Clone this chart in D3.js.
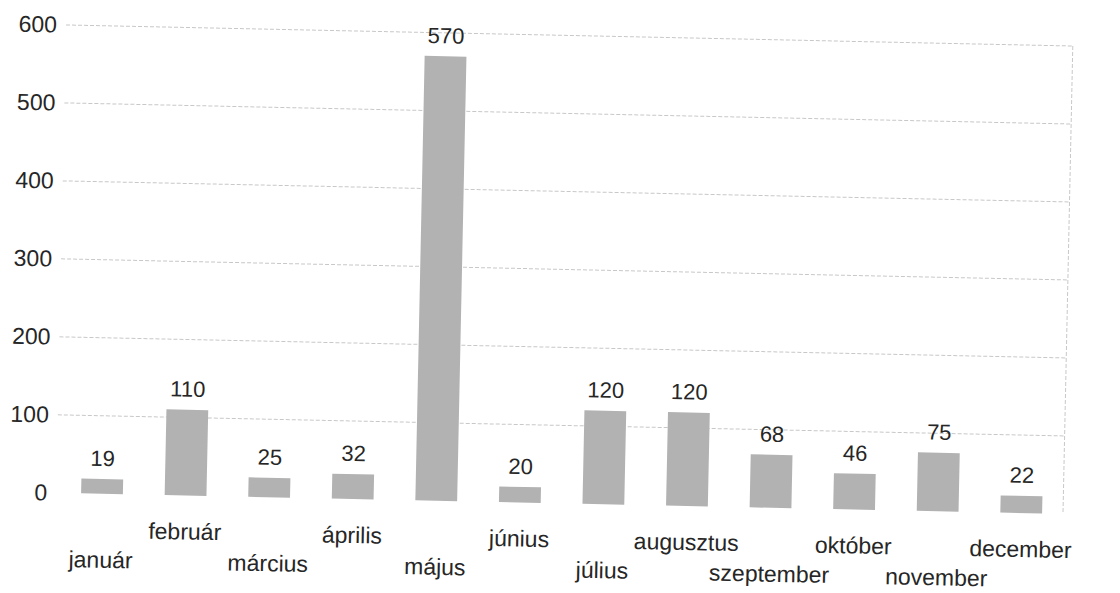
<!DOCTYPE html>
<html>
<head>
<meta charset="utf-8">
<script src="https://cdn.jsdelivr.net/npm/d3@7"></script>
<style>
  body { margin: 0; background: #fff; }
  text { font-family: "Liberation Sans", Arial, sans-serif; fill: #262626; }
</style>
</head>
<body>
<div id="chart"></div>
<script>
var months = ["január", "február", "március", "április", "május", "június",
  "július", "augusztus", "szeptember", "október", "november", "december"];
var values = [19, 110, 25, 32, 570, 20, 120, 120, 68, 46, 75, 22];
var yTicks = [0, 100, 200, 300, 400, 500, 600];

var width = 1120;
var height = 593;
// plot box (before the tilt)
var plotLeft = 70, plotRight = 1073, plotTop = 25, plotBottom = 493;

var svg = d3.select("#chart")
  .append("svg")
  .attr("width", width)
  .attr("height", height);

// the scanned page sits a little crooked, so tilt the whole chart
var chart = svg.append("g")
  .attr("transform", "rotate(1.2," + plotLeft + "," + plotTop + ")");

var x = d3.scaleBand()
  .domain(months)
  .range([plotLeft, plotRight])
  .paddingInner(0.5)
  .paddingOuter(0.25);

var y = d3.scaleLinear()
  .domain([0, 600])
  .range([plotBottom, plotTop]);

// gridlines (no line on 0)
chart.selectAll(".grid")
  .data(yTicks.filter(function(d) { return d > 0; }))
  .enter().append("line")
  .attr("class", "grid")
  .attr("x1", plotLeft - 4)
  .attr("x2", plotRight)
  .attr("y1", function(d) { return y(d); })
  .attr("y2", function(d) { return y(d); })
  .style("stroke", "#c8c8c8")
  .style("stroke-width", 1)
  .style("stroke-dasharray", "4,2");

// right border of plot area
chart.append("line")
  .attr("x1", plotRight)
  .attr("x2", plotRight)
  .attr("y1", y(600))
  .attr("y2", y(0))
  .style("stroke", "#c8c8c8")
  .style("stroke-dasharray", "4,2");

// y axis labels
var yAxis = d3.axisLeft(y).tickValues(yTicks).tickSize(0).tickPadding(13);
var yg = chart.append("g")
  .attr("transform", "translate(" + plotLeft + ",0)")
  .call(yAxis);
yg.select(".domain").remove();
yg.selectAll("text")
  .style("font-size", "23px")
  .style("font-family", "'Liberation Sans', Arial, sans-serif")
  .style("fill", "#262626");

// bars
chart.selectAll(".bar")
  .data(values)
  .enter().append("rect")
  .attr("class", "bar")
  .attr("x", function(d, i) { return x(months[i]); })
  .attr("y", function(d) { return y(d); })
  .attr("width", x.bandwidth())
  .attr("height", function(d) { return y(0) - y(d); })
  .style("fill", "#b2b2b2");

// value labels
chart.selectAll(".val")
  .data(values)
  .enter().append("text")
  .attr("class", "val")
  .attr("x", function(d, i) { return x(months[i]) + x.bandwidth() / 2; })
  .attr("y", function(d) { return y(d) - 13; })
  .attr("text-anchor", "middle")
  .style("font-size", "22px")
  .text(function(d) { return d; });

// category labels, staggered in two rows
chart.selectAll(".cat")
  .data(months)
  .enter().append("text")
  .attr("class", "cat")
  .attr("x", function(d) { return x(d) + x.bandwidth() / 2; })
  .attr("y", function(d, i) { return i % 2 === 1 ? plotBottom + 44 : plotBottom + 74; })
  .attr("text-anchor", "middle")
  .style("font-size", "23px")
  .text(function(d) { return d; });
</script>
</body>
</html>
